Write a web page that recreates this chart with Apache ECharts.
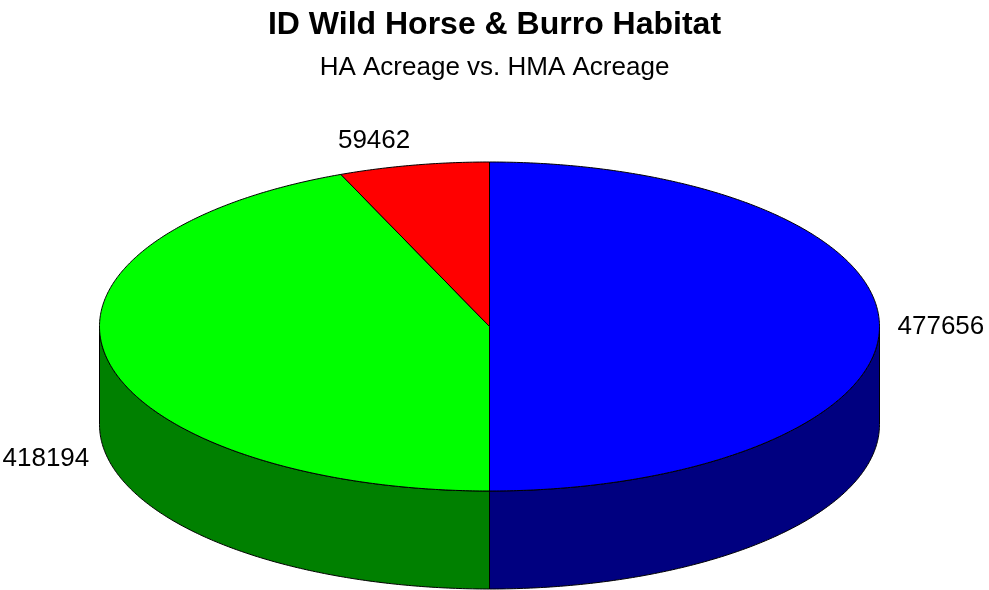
<!DOCTYPE html>
<html>
<head>
<meta charset="utf-8">
<script src="https://cdn.jsdelivr.net/npm/echarts@6/dist/echarts.min.js"></script>
<style>
html,body{margin:0;padding:0;background:#fff;}
#main{width:989px;height:590px;}
</style>
</head>
<body>
<div id="main"></div>
<script>
// ---- data ----
var categories = ['HMA Acreage', 'HA Acreage', 'Other'];
var values = [477656, 418194, 59462];
var topColors = ['#0000FF', '#00FF00', '#FF0000'];
var sideColors = ['#000080', '#008000', '#800000'];
var titleText = 'ID Wild Horse & Burro Habitat';
var subtitleText = 'HA Acreage vs. HMA Acreage';

var total = values.reduce(function (a, b) { return a + b; }, 0);
var starts = [];
var acc = 0;
values.forEach(function (v) { starts.push(acc); acc += v; });

var FONT = '"Liberation Sans", Arial, sans-serif';
var chart = echarts.init(document.getElementById('main'));

function renderItem(params, api) {
  var cx = 489.5, cy = 326.5, rx = 390, ry = 164.5, depth = 98;
  var i = params.dataIndex;
  var v = api.value(0);
  var a = starts[i] / total * 360;
  var b = (starts[i] + v) / total * 360;
  function P(tDeg, dy) {
    var t = tDeg * Math.PI / 180;
    return [cx + rx * Math.sin(t), cy - ry * Math.cos(t) + (dy || 0)];
  }
  function arc(from, to, dy) {
    var pts = [];
    var n = Math.max(2, Math.ceil(Math.abs(to - from) / 0.5));
    for (var k = 0; k <= n; k++) pts.push(P(from + (to - from) * k / n, dy));
    return pts;
  }
  var children = [];
  var lo = Math.max(a, 90), hi = Math.min(b, 270);
  if (lo < hi) {
    var side = arc(lo, hi, 0).concat(arc(hi, lo, depth));
    children.push({
      type: 'polygon', z2: 1,
      shape: { points: side },
      style: { fill: sideColors[i], stroke: '#000', lineWidth: 1 }
    });
  }
  var top = [[cx, cy]].concat(arc(a, b, 0));
  children.push({
    type: 'polygon', z2: 5,
    shape: { points: top },
    style: { fill: topColors[i], stroke: '#000', lineWidth: 1 }
  });
  // label
  var m = (a + b) / 2;
  var mr = m * Math.PI / 180;
  var s = Math.sin(mr), c = Math.cos(mr);
  var lx = cx + (rx + 18) * s;
  var ly = cy - (ry + 12) * c + (c < 0 ? depth : 0);
  children.push({
    type: 'text', z2: 10,
    style: {
      text: String(v),
      x: lx, y: ly,
      fill: '#000',
      font: '26px ' + FONT,
      textAlign: s > 0.1 ? 'left' : (s < -0.1 ? 'right' : 'center'),
      textVerticalAlign: c > 0.5 ? 'bottom' : (c < -0.5 ? 'top' : 'middle')
    }
  });
  return { type: 'group', children: children };
}

chart.setOption({
  animation: false,
  backgroundColor: '#fff',
  title: {
    text: titleText,
    subtext: subtitleText,
    left: 'center',
    top: 4,
    itemGap: 14,
    textStyle: { fontFamily: FONT, fontSize: 32, fontWeight: 'bold', color: '#000' },
    subtextStyle: { fontFamily: FONT, fontSize: 26, color: '#000' }
  },
  series: [{
    type: 'custom',
    coordinateSystem: 'none',
    renderItem: renderItem,
    data: values.map(function (v, i) { return { name: categories[i], value: [v] }; })
  }]
});
</script>
</body>
</html>
